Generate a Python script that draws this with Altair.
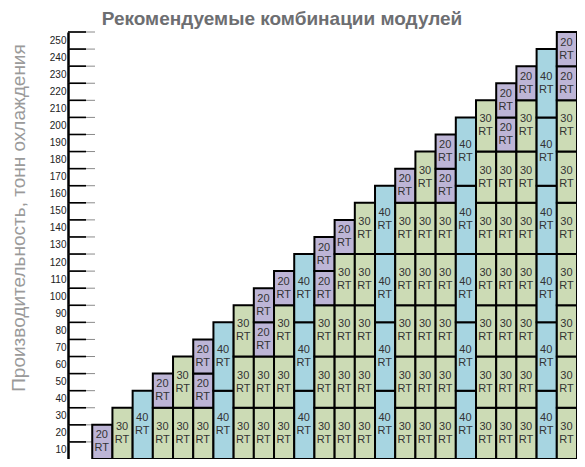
import altair as alt
import pandas as pd

title_text = "Рекомендуемые комбинации модулей"
y_title_text = "Производительность, тонн охлаждения"

capacities = [20, 30, 40, 50, 60, 70, 80, 90, 100, 110, 120, 130,
              140, 150, 160, 170, 180, 190, 200, 210, 220, 230, 240, 250]

# module stacks per capacity, bottom to top (RT)
stacks = [
    [20],
    [30],
    [40],
    [30, 20],
    [30, 30],
    [30, 20, 20],
    [40, 40],
    [30, 30, 30],
    [30, 30, 20, 20],
    [30, 30, 30, 20],
    [40, 40, 40],
    [30, 30, 30, 20, 20],
    [30, 30, 30, 30, 20],
    [30, 30, 30, 30, 30],
    [40, 40, 40, 40],
    [30, 30, 30, 30, 30, 20],
    [30, 30, 30, 30, 30, 30],
    [30, 30, 30, 30, 30, 20, 20],
    [40, 40, 40, 40, 40],
    [30, 30, 30, 30, 30, 30, 30],
    [30, 30, 30, 30, 30, 30, 20, 20],
    [30, 30, 30, 30, 30, 30, 30, 20],
    [40, 40, 40, 40, 40, 40],
    [30, 30, 30, 30, 30, 30, 30, 20, 20],
]

module_names = ["20 RT", "30 RT", "40 RT"]
module_colors = ["#BDB5D6", "#CCDBB5", "#A7D5E1"]

y_ticks = [10, 20, 30, 40, 50, 60, 70, 80, 90, 100, 110, 120, 130,
           140, 150, 160, 170, 180, 190, 200, 210, 220, 230, 240, 250]

rows = []
for i, (cap, stack) in enumerate(zip(capacities, stacks)):
    base = 0
    for m in stack:
        rows.append({
            "col": i, "col2": i + 1, "cap": cap,
            "y0": base, "y1": base + m, "ym": base + m / 2,
            "module": f"{m} RT", "num": str(m), "rt": "RT",
        })
        base += m
df = pd.DataFrame(rows)
ticks_df = pd.DataFrame({"v": y_ticks})
title_df = pd.DataFrame({"t": [title_text]})
ytitle_df = pd.DataFrame({"t": [y_title_text]})

W, H = 509, 427
xscale = alt.Scale(domain=[-1.2, 24], nice=False, zero=False)
yscale = alt.Scale(domain=[0, 250], nice=False, zero=True)
yaxis = alt.Axis(values=y_ticks, ticks=False, grid=False, title=None,
                 domainColor="#000000", domainWidth=2.5,
                 labelFontSize=10, labelColor="#222222",
                 labelFont="Liberation Sans", labelPadding=2,
                 labelOffset=8)

tick_gray = alt.Chart(ticks_df).mark_rule(color="#8a8a8a", strokeWidth=1).encode(
    y=alt.Y("v:Q", scale=yscale, axis=yaxis),
    x=alt.value(0), x2=alt.value(27),
)
tick_black = alt.Chart(ticks_df).mark_rule(color="#000000", strokeWidth=1.6).encode(
    y=alt.Y("v:Q", scale=yscale, axis=yaxis),
    x=alt.value(0), x2=alt.value(18),
)

bars = alt.Chart(df).mark_rect(stroke="#000000", strokeWidth=2).encode(
    x=alt.X("col:Q", scale=xscale, axis=None),
    x2="col2:Q",
    y=alt.Y("y0:Q", scale=yscale, axis=yaxis),
    y2="y1:Q",
    color=alt.Color("module:N", scale=alt.Scale(domain=module_names, range=module_colors),
                    legend=None),
)

num_text = alt.Chart(df).transform_calculate(xc="datum.col + 0.5").mark_text(
    align="center", baseline="middle", fontSize=11, font="Liberation Sans",
    color="#333333", dy=-6.5, dx=-0.5,
).encode(
    x=alt.X("xc:Q", scale=xscale, axis=None),
    y=alt.Y("ym:Q", scale=yscale, axis=yaxis),
    text="num:N",
)
rt_text = alt.Chart(df).transform_calculate(xc="datum.col + 0.5").mark_text(
    align="center", baseline="middle", fontSize=11, font="Liberation Sans",
    color="#333333", dy=6.5, dx=-0.5,
).encode(
    x=alt.X("xc:Q", scale=xscale, axis=None),
    y=alt.Y("ym:Q", scale=yscale, axis=yaxis),
    text="rt:N",
)

title = alt.Chart(title_df).mark_text(
    align="center", baseline="alphabetic", fontSize=19, fontWeight="bold",
    font="Liberation Sans", color="#6D6E71",
).encode(x=alt.value(214), y=alt.value(-7), text="t:N")

ytitle = alt.Chart(ytitle_df).mark_text(
    align="center", baseline="alphabetic", fontSize=19, angle=270,
    font="Liberation Sans", color="#9A9A9A",
).encode(x=alt.value(-43), y=alt.value(186), text="t:N")

chart = alt.layer(tick_gray, tick_black, bars, num_text, rt_text, title, ytitle).properties(
    width=W, height=H,
    autosize=alt.AutoSizeParams(type="none"),
    padding={"left": 60, "top": 24, "right": 0, "bottom": 0},
).configure_view(stroke=None)

chart.save("out.html", embed_options={"renderer": "svg", "actions": False})
